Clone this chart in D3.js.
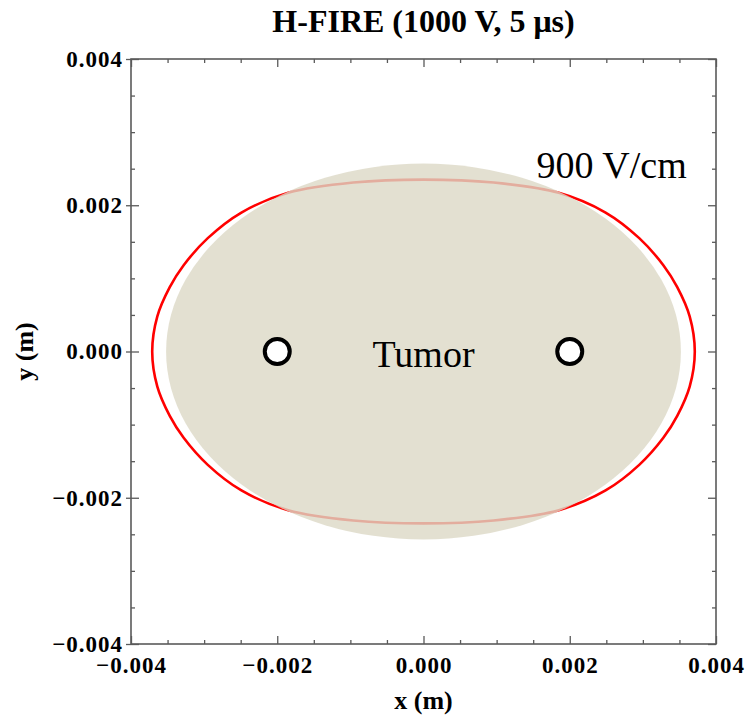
<!DOCTYPE html>
<html>
<head>
<meta charset="utf-8">
<script src="https://cdn.jsdelivr.net/npm/d3@7"></script>
<style>
  body { margin: 0; background: #fff; }
  text { font-family: "Liberation Serif", "Times New Roman", serif; }
</style>
</head>
<body>
<svg width="748" height="717"></svg>
<script>
// ---- data ----
var xTicks = [-0.004, -0.002, 0, 0.002, 0.004];
var yTicks = [-0.004, -0.002, 0, 0.002, 0.004];
var minorTicks = [-0.0035, -0.003, -0.0025, -0.0015, -0.001, -0.0005,
                  0.0005, 0.001, 0.0015, 0.0025, 0.003, 0.0035];

// tumor ellipse: centre and radii (m)
var tumorCenter = [0, 0];
var tumorRadii = [0.00352, 0.00257];

// electrodes (m)
var electrodeX = [-0.002, 0.002];
var electrodeY = [0, 0];

// 900 V/cm contour, upper half left->right then lower half right->left
var contourUpper = [
  [-0.00371, 0], [-0.00364, 0.00048], [-0.00347, 0.00088], [-0.00328, 0.00118],
  [-0.00295, 0.00155], [-0.00249, 0.0019], [-0.00185, 0.00217], [-0.00096, 0.00231],
  [0, 0.00235],
  [0.00096, 0.00231], [0.00185, 0.00217], [0.00249, 0.0019], [0.00295, 0.00155],
  [0.00328, 0.00118], [0.00347, 0.00088], [0.00364, 0.00048]
];
var contourLower = [
  [0.00371, 0], [0.00364, -0.00048], [0.00347, -0.00088], [0.00328, -0.00118],
  [0.00295, -0.00155], [0.00249, -0.0019], [0.00185, -0.00217], [0.00096, -0.00231],
  [0, -0.00235],
  [-0.00096, -0.00231], [-0.00185, -0.00217], [-0.00249, -0.0019], [-0.00295, -0.00155],
  [-0.00328, -0.00118], [-0.00347, -0.00088], [-0.00364, -0.00048]
];

var svg = d3.select("svg"),
    margin = { top: 59, right: 32, bottom: 73, left: 131 },
    width = +svg.attr("width") - margin.left - margin.right,
    height = +svg.attr("height") - margin.top - margin.bottom,
    g = svg.append("g").attr("transform", "translate(" + margin.left + "," + margin.top + ")");

var x = d3.scaleLinear().domain([-0.004, 0.004]).range([0, width]);
var y = d3.scaleLinear().domain([-0.004, 0.004]).range([height, 0]);
var fmt = d3.format(".3f");
var axisColor = "#5a5a5a";

// contour line (drawn under the tumour so the overlap looks faded)
var line = d3.line()
    .x(function (d) { return x(d[0]); })
    .y(function (d) { return y(d[1]); })
    .curve(d3.curveCatmullRomClosed);

g.append("path")
    .datum(contourUpper.concat(contourLower))
    .attr("fill", "none")
    .attr("stroke", "#ff0000")
    .attr("stroke-width", 2.6)
    .attr("d", line);

// tumour
g.append("ellipse")
    .attr("cx", x(tumorCenter[0]))
    .attr("cy", y(tumorCenter[1]))
    .attr("rx", x(tumorRadii[0]) - x(0))
    .attr("ry", y(0) - y(tumorRadii[1]))
    .attr("fill", "#dcd8c6")
    .attr("fill-opacity", 0.8);

// electrodes
g.selectAll(".electrode")
    .data(electrodeX)
    .enter().append("circle")
    .attr("class", "electrode")
    .attr("cx", function (d) { return x(d); })
    .attr("cy", function (d, i) { return y(electrodeY[i]); })
    .attr("r", 12.5)
    .attr("fill", "#fff")
    .attr("stroke", "#000")
    .attr("stroke-width", 4);

g.append("text")
    .attr("x", x(0))
    .attr("y", y(0) + 15)
    .attr("text-anchor", "middle")
    .attr("font-size", 38)
    .text("Tumor");

g.append("text")
    .attr("x", x(0.00371) - 8)
    .attr("y", 119)
    .attr("text-anchor", "end")
    .attr("font-size", 38)
    .text("900 V/cm");

// ---- axes ----
function styleAxis(sel) {
    sel.select(".domain").remove();
    sel.selectAll("line").attr("stroke", axisColor).attr("stroke-width", 1.3);
    sel.selectAll("text")
        .attr("fill", "#000")
        .attr("font-size", 23)
        .attr("font-weight", "bold")
        .attr("letter-spacing", "1px")
        .style("font-family", "'Liberation Serif', 'Times New Roman', serif");
}

// bottom
g.append("g").attr("transform", "translate(0," + height + ")")
    .call(d3.axisBottom(x).tickValues(xTicks).tickSizeInner(-8).tickSizeOuter(0).tickPadding(13).tickFormat(fmt))
    .call(styleAxis);
g.append("g").attr("transform", "translate(0," + height + ")")
    .call(d3.axisBottom(x).tickValues(minorTicks).tickSizeInner(-4).tickSizeOuter(0).tickFormat(""))
    .call(styleAxis);
// top
g.append("g")
    .call(d3.axisTop(x).tickValues(xTicks).tickSizeInner(-8).tickSizeOuter(0).tickFormat(""))
    .call(styleAxis);
g.append("g")
    .call(d3.axisTop(x).tickValues(minorTicks).tickSizeInner(-4).tickSizeOuter(0).tickFormat(""))
    .call(styleAxis);
// left
var yAxisG = g.append("g")
    .call(d3.axisLeft(y).tickValues(yTicks).tickSizeInner(5).tickSizeOuter(0).tickPadding(3).tickFormat(fmt))
    .call(styleAxis);
yAxisG.selectAll(".tick line").attr("x1", 8);
g.append("g")
    .call(d3.axisLeft(y).tickValues(minorTicks).tickSizeInner(-4).tickSizeOuter(0).tickFormat(""))
    .call(styleAxis);
// right
g.append("g").attr("transform", "translate(" + width + ",0)")
    .call(d3.axisRight(y).tickValues(yTicks).tickSizeInner(-8).tickSizeOuter(0).tickFormat(""))
    .call(styleAxis);
g.append("g").attr("transform", "translate(" + width + ",0)")
    .call(d3.axisRight(y).tickValues(minorTicks).tickSizeInner(-4).tickSizeOuter(0).tickFormat(""))
    .call(styleAxis);

// frame
g.append("rect")
    .attr("width", width)
    .attr("height", height)
    .attr("fill", "none")
    .attr("stroke", axisColor)
    .attr("stroke-width", 1.6);

// titles
svg.append("text")
    .attr("x", margin.left + width / 2)
    .attr("y", 32)
    .attr("text-anchor", "middle")
    .attr("font-size", 32)
    .attr("font-weight", "bold")
    .text("H-FIRE (1000 V, 5 μs)");

svg.append("text")
    .attr("x", margin.left + width / 2)
    .attr("y", 709)
    .attr("text-anchor", "middle")
    .attr("font-size", 26)
    .attr("font-weight", "bold")
    .text("x (m)");

svg.append("text")
    .attr("transform", "translate(33," + (margin.top + height / 2) + ") rotate(-90)")
    .attr("text-anchor", "middle")
    .attr("font-size", 26)
    .attr("font-weight", "bold")
    .text("y (m)");
</script>
</body>
</html>
